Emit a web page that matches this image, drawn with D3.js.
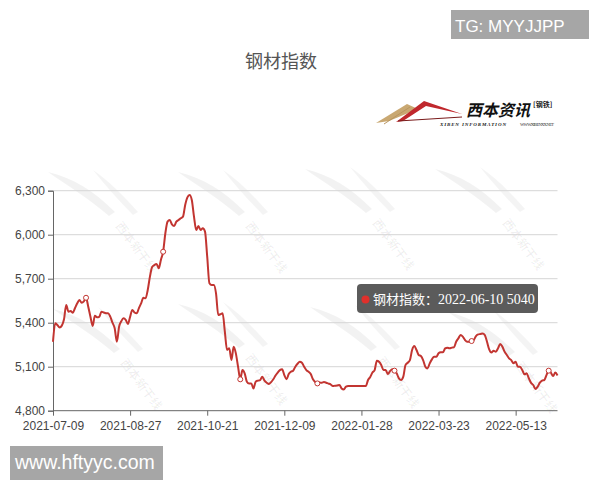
<!DOCTYPE html>
<html><head><meta charset="utf-8">
<script src="https://cdn.jsdelivr.net/npm/d3@7"></script>
<style>html,body{margin:0;padding:0;background:#fff}svg{display:block}</style>
</head><body>
<svg id="c" width="600" height="480"></svg>
<script>
const title = "钢材指数";
const seriesName = "钢材指数";
const tickLabels = ["2021-07-09","2021-08-27","2021-10-21","2021-12-09","2022-01-28","2022-03-23","2022-05-13"];
const tickIndex = [0,35,70,105,140,175,210];
const yTicks = [4800,5100,5400,5700,6000,6300];
const values = [
5270,5396,5384,5368,5380,5423,5521,5475,5480,5468,
5500,5532,5555,5536,5545,5570,5509,5441,5378,5448,
5437,5440,5475,5470,5465,5464,5441,5400,5362,5270,
5373,5410,5430,5420,5391,5440,5487,5470,5464,5500,
5532,5570,5566,5623,5714,5780,5793,5800,5771,5830,
5884,6010,6089,6100,6070,6059,6089,6100,6112,6123,
6203,6255,6271,6237,6123,6032,6059,6032,6044,6021,
5850,5669,5657,5657,5600,5453,5458,5464,5339,5214,
5225,5146,5236,5191,5100,5014,5077,5055,4998,4986,
4986,4952,4998,5005,5009,5032,5005,4991,4982,4995,
5014,5040,5060,5077,5082,5043,5014,5050,5066,5073,
5100,5120,5134,5127,5100,5077,5065,5050,5014,4995,
4986,4993,4990,4995,4991,4985,4980,4968,4970,4972,
4975,4952,4945,4964,4968,4968,4968,4968,4968,4968,
4968,4968,4968,5009,5030,5060,5077,5141,5134,5111,
5077,5077,5050,5070,5082,5073,5055,5020,5009,5032,
5111,5127,5145,5214,5241,5214,5180,5173,5145,5100,
5088,5123,5150,5168,5168,5191,5198,5198,5225,5230,
5225,5230,5232,5270,5293,5316,5305,5282,5270,5270,
5275,5282,5309,5320,5323,5327,5316,5270,5218,5196,
5209,5202,5225,5255,5236,5202,5180,5157,5145,5123,
5134,5100,5100,5077,5048,5055,5020,4990,4975,4948,
4964,4991,5005,5009,5043,5073,5059,5036,5060,5040
];
const symbolIndex = [15,50,85,120,155,190,225];
const tooltipDate = "2022-06-10";
const tooltipValue = 5040;

const svg = d3.select("#c");
const L = 53, R = 557.5, T = 190.7, B = 410.7;
const x = d3.scaleLinear().domain([0, values.length - 1]).range([L, R]);
const y = d3.scaleLinear().domain([4800, 6300]).range([B, T]);

// watermarks
const wm = svg.append("g");
const wmPos = [[133,250],[263,250],[390,247],[520,247],[138,387],[263,382],[395,385],[533,390]];
wmPos.forEach(([cx,cy]) => {
  const g = wm.append("g").attr("transform", `translate(${cx},${cy})`);
  g.append("path").attr("d", "M-85,-78 C-60,-72 -40,-60 -18,-38 L-24,-34 C-45,-52 -65,-64 -85,-78 Z")
    .attr("fill", "rgba(0,0,0,0.05)");
  g.append("path").attr("d", "M-40,-80 C-25,-70 -10,-55 5,-38 L0,-35 C-15,-50 -28,-65 -40,-80 Z")
    .attr("fill", "rgba(0,0,0,0.045)");
  g.append("text").attr("transform", "rotate(53)").attr("text-anchor", "middle")
    .attr("font-family", "Noto Sans CJK SC").attr("font-size", 12).attr("font-weight", "bold")
    .attr("fill", "rgba(0,0,0,0.06)").text("西本新干线");
});

// title
svg.append("text").attr("x", 281).attr("y", 68).attr("text-anchor", "middle")
  .attr("font-family", "Noto Sans CJK SC").attr("font-size", 18).attr("fill", "#555").text(title);

// logo
const lg = svg.append("g");
lg.append("path").attr("d", "M376,123 L407,104 L418,109 L389,121 Z").attr("fill", "#c9a872");
lg.append("path").attr("d", "M384,124 L410,107").attr("stroke", "#b99660").attr("stroke-width", 1);
lg.append("path").attr("d", "M396,122 L424,101 L462,114 L426,106 L403,121 Z").attr("fill", "#c0282d");
lg.append("path").attr("d", "M398,121 L462,117").attr("stroke", "#7a1a1a").attr("stroke-width", 1);
lg.append("text").attr("x", 466).attr("y", 115.5).attr("font-family", "Noto Sans CJK SC")
  .attr("font-size", 16).attr("font-weight", "bold").attr("font-style", "italic").attr("fill", "#111").text("西本资讯");
lg.append("text").attr("x", 533).attr("y", 107).attr("font-family", "Noto Sans CJK SC")
  .attr("font-size", 7).attr("font-weight", "bold").attr("fill", "#222").text("[钢铁]");
lg.append("text").attr("x", 440).attr("y", 125.5).attr("font-family", "Liberation Serif")
  .attr("font-size", 5).attr("font-weight", "bold").attr("font-style", "italic").attr("fill", "#222")
  .attr("textLength", 66).text("XIBEN INFORMATION");
lg.append("text").attr("x", 520).attr("y", 125.5).attr("font-family", "Liberation Serif")
  .attr("font-size", 4.5).attr("fill", "#333").attr("textLength", 34).text("WWW.XIBENXX.NET");

// grid
svg.append("g").selectAll("line").data(yTicks.slice(1)).join("line")
  .attr("x1", L).attr("x2", R).attr("y1", d => y(d)).attr("y2", d => y(d))
  .attr("stroke", "#d6d6d6").attr("stroke-width", 1);

// y axis
const yAxis = svg.append("g").attr("transform", `translate(${L},0)`)
  .call(d3.axisLeft(y).tickValues(yTicks).tickSize(5).tickPadding(3).tickFormat(d3.format(",")));
yAxis.select(".domain").attr("stroke", "#666");
yAxis.selectAll(".tick line").attr("stroke", "#666");
yAxis.selectAll("text").attr("font-family", "Liberation Sans").attr("font-size", 12).attr("fill", "#444");

// x axis
const xAxis = svg.append("g").attr("transform", `translate(0,${B})`)
  .call(d3.axisBottom(x).tickValues(tickIndex).tickSize(5).tickPadding(6).tickFormat((d,i) => tickLabels[i]));
xAxis.select(".domain").attr("stroke", "#666").attr("d", `M${L},0H${R}`);
xAxis.selectAll(".tick line").attr("stroke", "#666");
xAxis.selectAll("text").attr("font-family", "Liberation Sans").attr("font-size", 12).attr("fill", "#444");

// line
const line = d3.line().x((d,i) => x(i)).y(d => y(d)).curve(d3.curveMonotoneX);
svg.append("path").datum(values).attr("d", line).attr("fill", "none")
  .attr("stroke", "#c23531").attr("stroke-width", 2).attr("stroke-linejoin", "round");

svg.append("g").selectAll("circle").data(symbolIndex).join("circle")
  .attr("cx", d => x(d)).attr("cy", d => y(values[d])).attr("r", 2.5)
  .attr("fill", "#fff").attr("stroke", "#c23531").attr("stroke-width", 1);

// tooltip
const tt = svg.append("g");
tt.append("rect").attr("x", 357).attr("y", 284).attr("width", 181).attr("height", 29).attr("rx", 4)
  .attr("fill", "rgba(50,50,50,0.8)");
tt.append("circle").attr("cx", 365.5).attr("cy", 299.5).attr("r", 4).attr("fill", "#e0302c");
tt.append("text").attr("x", 373).attr("y", 304).attr("font-family", "Noto Sans CJK SC")
  .attr("font-size", 13).attr("fill", "#fff").text(seriesName + "：");
tt.append("text").attr("x", 438).attr("y", 304).attr("font-family", "Liberation Serif")
  .attr("font-size", 14).attr("fill", "#fff").text(tooltipDate + " " + tooltipValue);

// corner badges
svg.append("rect").attr("x", 451).attr("y", 10).attr("width", 138).attr("height", 29).attr("fill", "#a6a6a6");
svg.append("text").attr("x", 455).attr("y", 31.5).attr("font-family", "Liberation Sans")
  .attr("font-size", 17).attr("fill", "#fff").text("TG: MYYJJPP");
svg.append("rect").attr("x", 10).attr("y", 446).attr("width", 153).attr("height", 34).attr("fill", "#a6a6a6");
svg.append("text").attr("x", 15).attr("y", 469).attr("font-family", "Liberation Sans")
  .attr("font-size", 19.5).attr("fill", "#fff").text("www.hftyyc.com");
</script>
</body></html>
